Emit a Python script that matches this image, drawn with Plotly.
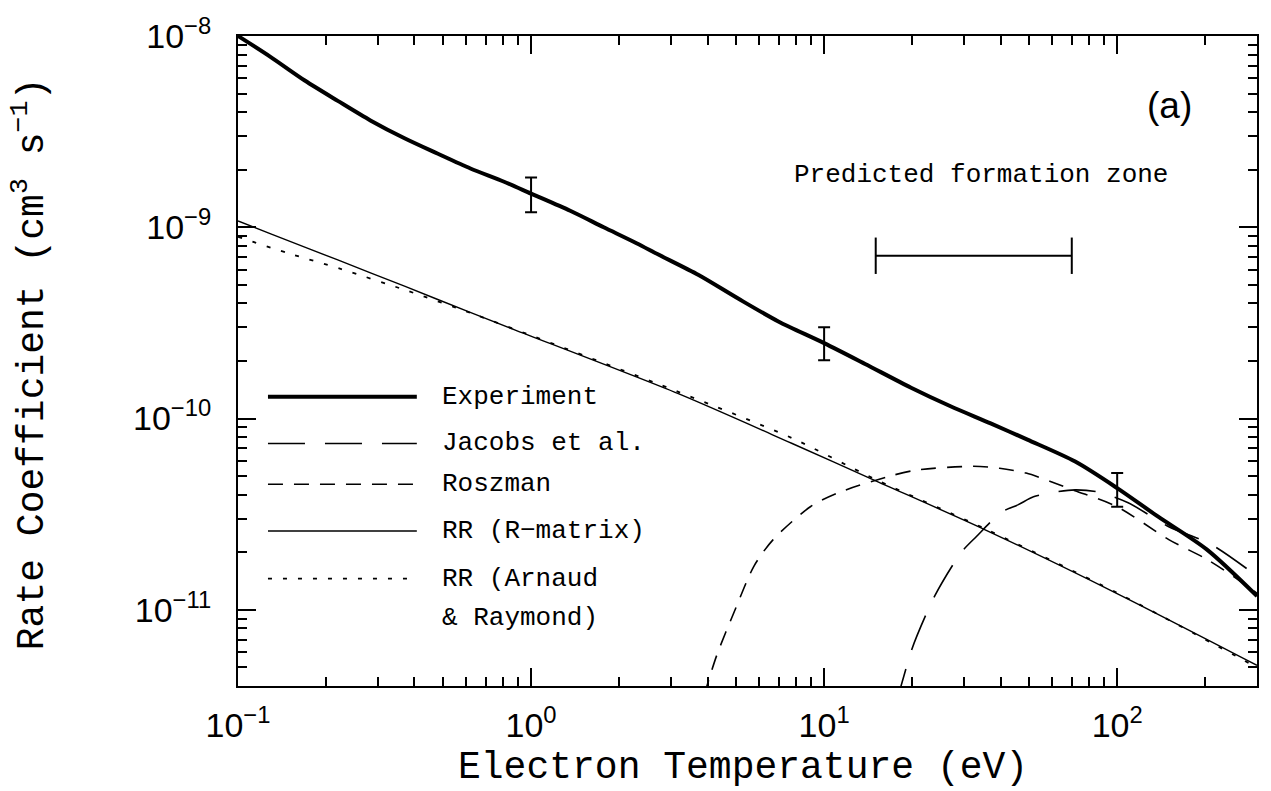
import math
import plotly.graph_objects as go

# ---------------- data ----------------
exp_T = [0.1, 0.129, 0.169, 0.219, 0.283, 0.37, 0.479, 0.621, 0.809, 1.0, 1.36, 1.77,
         2.29, 2.72, 3.73, 5.09, 6.98, 10.0, 13.8, 19.8, 27.0, 37.0, 49.4, 71.9, 100,
         138, 202, 300]
exp_rate = [1.0e-8, 7.78e-9, 5.85e-9, 4.58e-9, 3.62e-9, 2.92e-9, 2.43e-9, 2.03e-9,
            1.73e-9, 1.50e-9, 1.22e-9, 1.0e-9, 8.26e-10, 7.2e-10, 5.63e-10, 4.24e-10,
            3.22e-10, 2.48e-10, 1.93e-10, 1.45e-10, 1.16e-10, 9.44e-11, 7.76e-11,
            5.96e-11, 4.33e-11, 3.07e-11, 2.07e-11, 1.18e-11]

jacobs_T = [17.5, 18.3, 19.8, 20.8, 23.9, 29.4, 33.1, 40.3, 46, 51.8, 62, 72, 85.5,
            109, 150, 209, 300]
jacobs_rate = [3.2e-12, 4.0e-12, 6.05e-12, 7.4e-12, 1.19e-11, 2.0e-11, 2.42e-11,
               3.24e-11, 3.55e-11, 3.9e-11, 4.14e-11, 4.24e-11, 4.14e-11, 3.63e-11,
               2.72e-11, 2.2e-11, 1.5e-11]

roszman_T = [3.9, 4.3, 4.98, 5.77, 6.70, 9.0, 11.1, 16.5, 20.7, 32.3, 39.7, 48.9,
             59.2, 71.8, 100, 150, 202, 257, 300]
roszman_rate = [3.6e-12, 5.78e-12, 1.01e-11, 1.70e-11, 2.33e-11, 3.47e-11, 4.08e-11,
                4.97e-11, 5.38e-11, 5.63e-11, 5.5e-11, 5.19e-11, 4.69e-11, 4.2e-11,
                3.46e-11, 2.33e-11, 1.84e-11, 1.45e-11, 1.22e-11]

rmatrix_T = [0.1, 0.13, 0.219, 0.37, 0.62, 0.875, 3.18, 7.78, 14.8, 35.3, 100.7, 300]
rmatrix_rate = [1.08e-9, 9.2e-10, 6.75e-10, 4.92e-10, 3.59e-10, 2.92e-10, 1.35e-10,
                7.41e-11, 4.77e-11, 2.63e-11, 1.21e-11, 5.13e-12]

arnaud_T = [0.1, 0.148, 0.224, 0.378, 0.63, 1.0, 3.18, 7.78, 14.8, 35.3, 100.7, 300]
arnaud_rate = [8.91e-10, 7.33e-10, 6.06e-10, 4.66e-10, 3.54e-10, 2.72e-10, 1.38e-10,
               7.9e-11, 4.85e-11, 2.66e-11, 1.22e-11, 5.0e-12]

errbar_T = [1, 10, 100]
errbar_rate = [1.5e-9, 2.48e-10, 4.33e-11]
errbar_hi = [1.82e-9, 3.0e-10, 5.19e-11]
errbar_lo = [1.20e-9, 2.02e-10, 3.46e-11]

zone_T = [15, 70]
zone_rate = [7.1e-10, 7.1e-10]

x_tickvals = [0.1, 1, 10, 100]
x_ticktext = ["10<sup>\u22121</sup>", "10<sup>0</sup>", "10<sup>1</sup>", "10<sup>2</sup>"]
y_tickvals = [1e-11, 1e-10, 1e-9, 1e-8]
y_ticktext = ["10<sup>\u221211</sup>", "10<sup>\u221210</sup>", "10<sup>\u22129</sup>",
              "10<sup>\u22128</sup>"]

legend_labels = ["Experiment", "Jacobs et al.", "Roszman", "RR (R\u2212matrix)",
                 "RR (Arnaud", "& Raymond)"]

# ---------------- geometry / style ----------------
W, H = 1271, 791
ML, MR, MT, MB = 238, 13, 32, 105
PW, PH = W - ML - MR, H - MT - MB
MONO = "Liberation Mono"
SANS = "Liberation Sans"

def px2paper(x, y):
    return (x - ML) / PW, (H - MB - y) / PH

styles = [
    dict(width=4, dash="solid"),
    dict(width=1.6, dash="37px,20px"),
    dict(width=1.6, dash="15px,11px"),
    dict(width=1.4, dash="solid"),
    dict(width=1.8, dash="4px,11px"),
]

fig = go.Figure()
series = [(exp_T, exp_rate), (jacobs_T, jacobs_rate), (roszman_T, roszman_rate),
          (rmatrix_T, rmatrix_rate), (arnaud_T, arnaud_rate)]
for (xs, ys), st, name in zip(series, styles, legend_labels):
    fig.add_trace(go.Scatter(x=xs, y=ys, mode="lines", name=name, showlegend=False,
                             line=dict(color="black", width=st["width"], dash=st["dash"],
                                       shape="spline", smoothing=0.8)))

fig.add_trace(go.Scatter(
    x=errbar_T, y=errbar_rate, mode="markers", showlegend=False,
    marker=dict(size=1, color="rgba(0,0,0,0)"),
    error_y=dict(type="data", symmetric=False,
                 array=[h - c for h, c in zip(errbar_hi, errbar_rate)],
                 arrayminus=[c - l for c, l in zip(errbar_rate, errbar_lo)],
                 thickness=2, width=6, color="black")))

fig.add_trace(go.Scatter(
    x=zone_T, y=zone_rate, mode="lines+markers", showlegend=False,
    line=dict(color="black", width=2),
    marker=dict(symbol="line-ns", size=26, line=dict(width=2, color="black"))))

# legend (drawn manually to mimic long line samples)
legend_y = [395, 442, 483, 530, 578, 618]
shapes = []
annotations = []
for i, lab in enumerate(legend_labels):
    yy = legend_y[i]
    if i < len(styles):
        x0, y0 = px2paper(268, yy)
        x1, _ = px2paper(417, yy)
        shapes.append(dict(type="line", xref="paper", yref="paper", x0=x0, x1=x1,
                           y0=y0, y1=y0,
                           line=dict(color="black", width=styles[i]["width"],
                                     dash=styles[i]["dash"])))
    tx, ty = px2paper(440, yy)
    annotations.append(dict(xref="paper", yref="paper", x=tx, y=ty, text=lab,
                            showarrow=False, xanchor="left", yanchor="middle",
                            font=dict(family=MONO, size=26, color="black")))

tx, ty = px2paper(982, 172)
annotations.append(dict(xref="paper", yref="paper", x=tx, y=ty,
                        text="Predicted formation zone", showarrow=False,
                        xanchor="center", yanchor="middle",
                        font=dict(family=MONO, size=26, color="black")))
tx, ty = px2paper(1170, 102)
annotations.append(dict(xref="paper", yref="paper", x=tx, y=ty, text="(a)",
                        showarrow=False, xanchor="center", yanchor="middle",
                        font=dict(family=SANS, size=37, color="black")))
tx, ty = px2paper(743, 768)
annotations.append(dict(xref="paper", yref="paper", x=tx, y=ty,
                        text="Electron Temperature (eV)", showarrow=False,
                        xanchor="center", yanchor="middle",
                        font=dict(family=MONO, size=38, color="black")))
tx, ty = px2paper(30, 362)
annotations.append(dict(xref="paper", yref="paper", x=tx, y=ty,
                        text="Rate Coefficient (cm<sup>3</sup> s<sup>\u22121</sup>)",
                        showarrow=False, textangle=-90,
                        xanchor="center", yanchor="middle",
                        font=dict(family=MONO, size=38, color="black")))

def minor_vals(lo_exp, hi_exp):
    out = []
    for e in range(lo_exp, hi_exp + 1):
        for m in range(2, 10):
            out.append(m * 10.0 ** e)
    return out

axis_common = dict(
    type="log", tickmode="array", ticks="inside", ticklen=18, tickwidth=1.5,
    tickcolor="black", showline=True, linewidth=2, linecolor="black",
    mirror="ticks", showgrid=False, zeroline=False,
    tickfont=dict(family=SANS, size=34, color="black"),
)

fig.update_layout(
    width=W, height=H,
    margin=dict(l=ML, r=MR, t=MT, b=MB),
    paper_bgcolor="white", plot_bgcolor="white",
    showlegend=False,
    xaxis=dict(range=[-1, math.log10(300)], tickvals=x_tickvals, ticktext=x_ticktext,
               ticklabelstandoff=8,
               minor=dict(tickmode="array", tickvals=minor_vals(-1, 2), ticks="inside",
                          ticklen=9, tickwidth=1.5, tickcolor="black", showgrid=False),
               **axis_common),
    yaxis=dict(range=[math.log10(4.0e-12), -8], tickvals=y_tickvals, ticktext=y_ticktext,
               ticklabelstandoff=18,
               minor=dict(tickmode="array", tickvals=minor_vals(-12, -9), ticks="inside",
                          ticklen=9, tickwidth=1.5, tickcolor="black", showgrid=False),
               **axis_common),
    shapes=shapes,
    annotations=annotations,
)

fig.write_html("out.html")
